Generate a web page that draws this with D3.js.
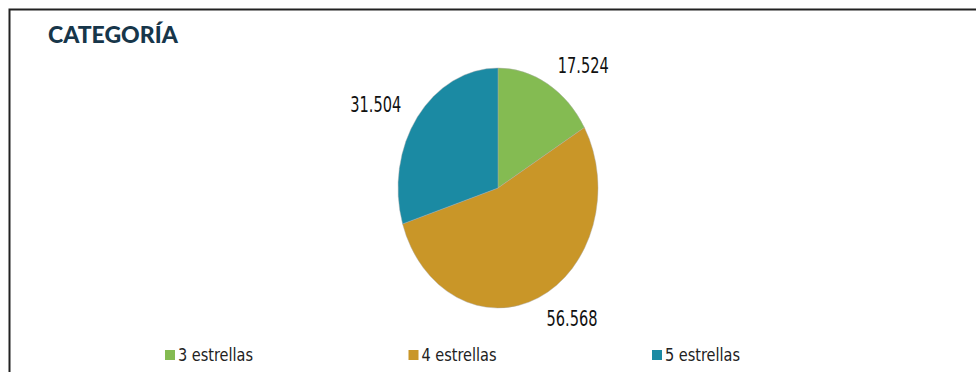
<!DOCTYPE html>
<html>
<head>
<meta charset="utf-8">
<script src="https://cdn.jsdelivr.net/npm/d3@7"></script>
<style>
  body { margin: 0; background: #fff; }
  svg text { font-family: "DejaVu Sans Condensed", "Liberation Sans Narrow", "Liberation Sans", sans-serif; }
</style>
</head>
<body>
<script>
// chart data
var categories = ["3 estrellas", "4 estrellas", "5 estrellas"];
var values = [17.524, 56.568, 31.504];
var labels = ["17.524", "56.568", "31.504"];
var colors = ["#84bb52", "#c99628", "#1b8aa3"];

var width = 976, height = 372;

var svg = d3.select("body").append("svg")
    .attr("width", width)
    .attr("height", height);

// frame (top + left only visible)
svg.append("path")
    .attr("d", "M9.5," + height + "V9.5H" + width)
    .attr("fill", "none")
    .attr("stroke", "#222")
    .attr("stroke-width", 2);

// title
svg.append("text")
    .attr("x", 48)
    .attr("y", 43)
    .style("font-family", "Lato, 'Open Sans', sans-serif")
    .style("font-weight", "900")
    .style("font-size", "23px")
    .attr("fill", "#17364a")
    .text("CATEGORÍA");

// pie, slightly taller than wide
var cx = 498, cy = 188, r = 100, sy = 1.2;

var pie = d3.pie().sort(null).value(function(d) { return d; });
var arcs = pie(values);

var arc = d3.arc().innerRadius(0).outerRadius(r);

var g = svg.append("g")
    .attr("transform", "translate(" + cx + "," + cy + ") scale(1," + sy + ")");

g.selectAll("path")
    .data(arcs)
  .enter().append("path")
    .attr("d", arc)
    .attr("fill", function(d, i) { return colors[i]; })
    .attr("stroke", "#aaa")
    .attr("stroke-width", 0.4);

// labels outside the slices
var labelArc = d3.arc().innerRadius(r * 1.2).outerRadius(r * 1.2);

svg.append("g")
    .attr("transform", "translate(" + cx + "," + cy + ")")
  .selectAll("text")
    .data(arcs)
  .enter().append("text")
    .attr("x", function(d) { return labelArc.centroid(d)[0]; })
    .attr("y", function(d) { return labelArc.centroid(d)[1] * sy; })
    .attr("dy", function(d) { return labelArc.centroid(d)[1] < 0 ? "0.45em" : "0.3em"; })
    .attr("text-anchor", function(d) { return labelArc.centroid(d)[0] < 0 ? "end" : "start"; })
    .attr("textLength", 51)
    .attr("lengthAdjust", "spacingAndGlyphs")
    .style("font-size", "21px")
    .attr("fill", "#111")
    .text(function(d, i) { return labels[i]; });

// legend
var legendX = d3.scalePoint().domain(categories).range([165, 652]);

var lg = svg.append("g").selectAll("g")
    .data(categories)
  .enter().append("g")
    .attr("transform", function(d) { return "translate(" + legendX(d) + ",355)"; });

lg.append("rect")
    .attr("x", 0)
    .attr("y", -5)
    .attr("width", 10)
    .attr("height", 10)
    .attr("fill", function(d, i) { return colors[i]; });

lg.append("text")
    .attr("x", 13)
    .attr("dy", "0.35em")
    .attr("textLength", 75)
    .attr("lengthAdjust", "spacingAndGlyphs")
    .style("font-size", "18px")
    .attr("fill", "#222")
    .text(function(d) { return d; });
</script>
</body>
</html>
